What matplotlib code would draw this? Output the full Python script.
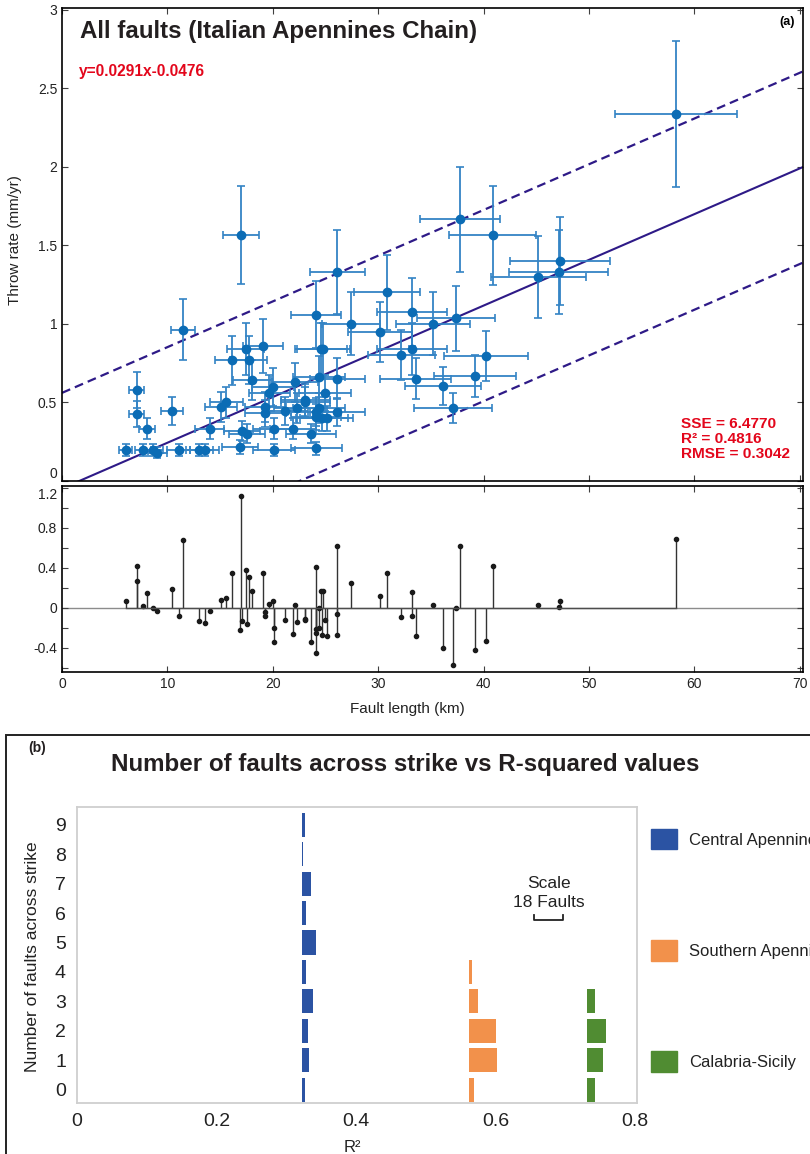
import matplotlib.pyplot as plt
import numpy as np
from matplotlib.patches import Rectangle, Patch

plt.rcParams['font.family'] = ['Liberation Sans', 'DejaVu Sans']

# panel (a): fault length (km) vs throw rate (mm/yr)
length = [6.04, 7.09, 7.09, 7.69, 8.06, 8.67, 9.05, 10.47, 11.07, 11.48,
          13.03, 13.54, 14.0, 15.09, 15.6, 16.1, 16.9, 17.0, 17.1, 17.43,
          17.55, 17.7, 18.06, 19.1, 19.3, 19.3, 19.67, 20.05, 20.1, 20.1,
          21.2, 21.9, 22.1, 22.27, 23.1, 23.1, 23.6, 24.1, 24.1, 24.1,
          24.13, 24.4, 24.4, 24.6, 24.64, 24.8, 24.95, 25.1, 26.1, 26.1,
          26.1, 27.42, 30.17, 30.84, 32.2, 33.18, 33.2, 33.55, 35.2, 36.18,
          37.13, 37.38, 37.79, 39.2, 40.2, 40.86, 45.2, 47.12, 47.25, 58.25]
throw = [0.198, 0.58, 0.427, 0.198, 0.332, 0.198, 0.18, 0.446, 0.198, 0.963,
         0.198, 0.198, 0.332, 0.47, 0.5, 0.768, 0.219, 1.564, 0.319, 0.84,
         0.3, 0.77, 0.644, 0.857, 0.47, 0.43, 0.56, 0.6, 0.332, 0.198,
         0.446, 0.332, 0.627, 0.464, 0.517, 0.5, 0.3, 1.059, 0.438, 0.406,
         0.208, 0.665, 0.464, 0.838, 0.4, 0.84, 0.56, 0.4, 1.33, 0.652,
         0.438, 1.0, 0.948, 1.2, 0.8, 1.078, 0.84, 0.652, 1.0, 0.606,
         0.465, 1.035, 1.665, 0.671, 0.796, 1.563, 1.299, 1.331, 1.399, 2.336]
length_err = [0.6, 0.7, 0.7, 0.77, 0.8, 0.87, 0.9, 1.05, 1.1, 1.15,
              1.3, 1.35, 1.4, 1.5, 1.56, 1.6, 1.7, 1.7, 1.7, 1.74,
              1.75, 1.77, 1.8, 1.9, 1.93, 1.93, 1.97, 2.0, 2.0, 2.0,
              2.1, 2.2, 2.2, 2.2, 2.3, 2.3, 2.36, 2.4, 2.4, 2.4,
              2.4, 2.44, 2.44, 2.46, 2.46, 2.48, 2.5, 2.5, 2.6, 2.6,
              2.6, 2.74, 3.0, 3.1, 3.2, 3.3, 3.3, 3.35, 3.5, 3.6,
              3.7, 3.7, 3.8, 3.9, 4.0, 4.1, 4.5, 4.7, 4.7, 5.8]
throw_err = [0.04, 0.116, 0.085, 0.04, 0.066, 0.04, 0.036, 0.089, 0.04, 0.193,
             0.04, 0.04, 0.066, 0.094, 0.1, 0.154, 0.044, 0.313, 0.064, 0.168,
             0.06, 0.154, 0.129, 0.171, 0.094, 0.086, 0.112, 0.12, 0.066, 0.04,
             0.089, 0.066, 0.125, 0.093, 0.103, 0.1, 0.06, 0.212, 0.088, 0.081,
             0.042, 0.133, 0.093, 0.168, 0.08, 0.168, 0.112, 0.08, 0.266, 0.13,
             0.088, 0.2, 0.19, 0.24, 0.16, 0.216, 0.168, 0.13, 0.2, 0.121,
             0.093, 0.207, 0.333, 0.134, 0.159, 0.313, 0.26, 0.266, 0.28, 0.467]
slope, intercept = 0.0291, -0.0476
sse, r2, rmse = 6.4770, 0.4816, 0.3042

# panel (b): number of faults across strike, per region
levels = list(range(10))
central = [2, 5, 4, 7, 3, 9, 3, 6, 1, 2]
southern = [3, 18, 17, 6, 2]
calabria = [5, 10, 12, 5]
r2_central, r2_southern, r2_calabria = 0.322, 0.562, 0.732
scale_faults, scale_width = 18, 0.0406

pt_c = '#0b6cb5'
line_c = '#2e1a87'
red = '#e3061b'

fig = plt.figure(figsize=(8.1, 11.54), dpi=100)
W, H = 810, 1154

ax = fig.add_axes([62/W, 1-481/H, 741/W, 473/H])
ax.errorbar(length, throw, xerr=length_err, yerr=throw_err, fmt='o', color=pt_c,
            ms=6, ecolor='#3484c5', elinewidth=1.3, capsize=2.6, capthick=1.2, zorder=3)
xx = np.array([0, 70.5])
fit = slope*xx + intercept
ax.plot(xx, fit, color=line_c, lw=1.5, zorder=2)
ax.plot(xx, fit + 2*rmse, color=line_c, lw=1.6, ls=(0, (4, 2.3)), zorder=2)
ax.plot(xx, fit - 2*rmse, color=line_c, lw=1.6, ls=(0, (4, 2.3)), zorder=2)
ax.set_xlim(0, 70.3)
ax.set_ylim(0, 3.01)
ax.set_yticks([0, 0.5, 1, 1.5, 2, 2.5, 3])
ax.set_yticklabels(['0', '0.5', '1', '1.5', '2', '2.5', '3'])
ax.yaxis.get_ticklabels()[0].set_va('bottom')
ax.set_xticks(range(0, 71, 10))
ax.tick_params(direction='in', top=True, right=True, labelbottom=False,
               length=4, labelsize=10, colors='0.25', labelcolor='#222222')
ax.set_ylabel('Throw rate (mm/yr)', fontsize=11, color='#222222')
ax.yaxis.set_label_coords((22-62)/741, 0.51)
ax.text(0.024, 0.951, 'All faults (Italian Apennines Chain)', transform=ax.transAxes,
        fontsize=17.4, fontweight='bold', color='#231f20', va='center')
ax.text(0.023, 0.865, 'y=0.0291x-0.0476', transform=ax.transAxes,
        fontsize=11.2, fontweight='bold', color=red, va='center')
ax.text(0.978, 0.97, '(a)', transform=ax.transAxes, fontsize=9,
        fontweight='bold', ha='center', va='center')
ax.text(0.835, 0.089, f'SSE = {sse:.4f}\nR² = {r2:.4f}\nRMSE = {rmse:.4f}',
        transform=ax.transAxes, fontsize=11.1, fontweight='bold', color=red,
        va='center', linespacing=1.1)
for s in ax.spines.values():
    s.set_linewidth(1.2)

# residuals
resid = np.array(throw) - (slope*np.array(length) + intercept)
axr = fig.add_axes([62/W, 1-672/H, 741/W, 186/H], sharex=ax)
axr.axhline(0, color='0.55', lw=1, zorder=1)
ml, sl, bl = axr.stem(length, resid, linefmt='-', markerfmt='o', basefmt='-')
plt.setp(sl, color='0.2', lw=1)
plt.setp(ml, color='0.1', markersize=3)
plt.setp(bl, color='0.3', lw=1)
axr.set_ylim(-0.64, 1.215)
axr.set_yticks(np.arange(-0.6, 1.25, 0.2))
axr.set_yticklabels(['', '-0.4', '', '0', '', '0.4', '', '0.8', '', '1.2'])
axr.yaxis.get_ticklabels()[-1].set_va('top')
axr.tick_params(direction='in', top=True, right=True, length=4, labelsize=10,
                colors='0.25', labelcolor='#222222')
axr.set_xlabel('Fault length (km)', fontsize=11, color='#222222')
axr.xaxis.set_label_coords((407-62)/741, (672-702)/186)
for s in axr.spines.values():
    s.set_linewidth(1.2)

# panel (b)
fig.add_artist(Rectangle((6/W, -0.01), 1.0, 1-735/H+0.01, transform=fig.transFigure,
                         fill=False, lw=1.4, ec='#222222'))
fig.text(37/W, 1-748/H, '(b)', fontsize=10, fontweight='bold', ha='center', va='center',
         color='#231f20')
fig.text(405/W, 1-765/H, 'Number of faults across strike vs R-squared values',
         fontsize=17.4, fontweight='bold', ha='center', va='center', color='#231f20')

axb = fig.add_axes([77/W, 1-1103/H, 560/W, 296/H])
unit = scale_width/scale_faults
c_blue, c_orange, c_green = '#2b53a3', '#f2914b', '#508c32'
axb.barh(levels[:len(central)], np.array(central)*unit, left=r2_central, height=0.82,
         color=c_blue, label='Central Apennines')
axb.barh(levels[:len(southern)], np.array(southern)*unit, left=r2_southern, height=0.82,
         color=c_orange, label='Southern Apennines')
axb.barh(levels[:len(calabria)], np.array(calabria)*unit, left=r2_calabria, height=0.82,
         color=c_green, label='Calabria-Sicily')
axb.set_xlim(0, 0.803)
axb.set_ylim(-0.45, 9.6)
axb.set_yticks(levels)
axb.set_xticks([0, 0.2, 0.4, 0.6, 0.8])
axb.set_xticklabels(['0', '0.2', '0.4', '0.6', '0.8'])
axb.tick_params(length=0, labelsize=14, labelcolor='#222222', pad=7)
axb.tick_params(axis='y', pad=8)
for s in axb.spines.values():
    s.set_color('#cfcfcf')
    s.set_linewidth(1.3)
axb.set_ylabel('Number of faults across strike', fontsize=12.5, color='#222222')
axb.yaxis.set_label_coords((40-77)/560, (1103-957)/296)
axb.set_xlabel('R²', fontsize=12, color='#222222')
axb.xaxis.set_label_coords((352-77)/560, (1103-1140)/296)

# scale bar
sx0 = 0.6558
axb.plot([sx0, sx0, sx0+scale_width, sx0+scale_width], [5.92, 5.77, 5.77, 5.92],
         color='#222222', lw=1.3)
axb.text(sx0+scale_width/2, 7.0, 'Scale', ha='center', va='center', fontsize=12.5,
         color='#222222')
axb.text(sx0+scale_width/2, 6.35, f'{scale_faults} Faults', ha='center', va='center',
         fontsize=12.5, color='#222222')

handles = [Patch(color=c) for c in (c_blue, c_orange, c_green)]
fig.legend(handles, ['Central Apennines', 'Southern Apennines', 'Calabria-Sicily'],
           loc='upper left', bbox_to_anchor=(651/W, 1-829/H), frameon=False,
           fontsize=12, handlelength=1.55, handleheight=1.5, handletextpad=0.75,
           labelspacing=5.45, borderpad=0, borderaxespad=0, labelcolor='#222222')

fig.savefig('out.png', dpi=100)
